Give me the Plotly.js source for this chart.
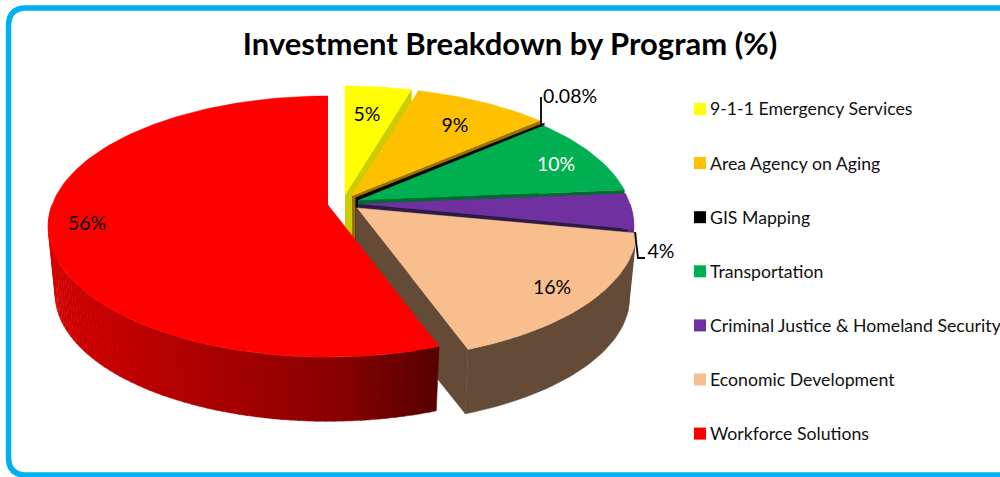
<!DOCTYPE html>
<html><head><meta charset="utf-8">
<script src="https://cdn.plot.ly/plotly-3.0.1.min.js"></script>
<style>html,body{margin:0;padding:0;background:#fff;overflow:hidden}#c{width:1000px;height:477px}</style>
</head><body><div id="c"></div>
<script>
const categories = ["9-1-1 Emergency Services","Area Agency on Aging","GIS Mapping","Transportation","Criminal Justice & Homeland Security","Economic Development","Workforce Solutions"];
const values = [4.5,9.1,0.08,10,4.4,16.4,55.52];
const labels = ["5%","9%","0.08%","10%","4%","16%","56%"];
const topColors = ["#ffff00","#ffc000","#000000","#00b050","#7030a0","#f8be8e","#ff0000"];
const wallColors = ["#cccc00","#997300","#000000","#006a30","#2e1a47","#634b37","#800000"];
const rimColors = ["#cccc00","#997300","#000000","#006a30","#5a2d90","#634b37","#800000"];
const tips = [[345,195],[352,196],[355.5,198],[358,200.5],[359,204],[357,208],[328,205]];
const reach = [1,1,1,0.982,0.982,1,1];
const labelPos = [[367,115],[455,125.5],[570,97],[556,165],[661,252],[552,287.5],[87,224]];
const labelColors = ["#000","#000","#000","#fff","#000","#000","#000"];
const rampX = [49,240,340,437];
const rampRed = [212,162,136,88];

// projection of the tilted disc
const RX=276, RY=127, K=0.165, DEPTH=68, SHRINK=0.975;
function proj(tip,deg,bottom,r){
  const t=deg*Math.PI/180,u=Math.sin(t),v=Math.cos(t),d=1+K*v,s=bottom?SHRINK:1;
  return [tip[0]+(r||1)*s*RX*u/d, tip[1]+(bottom?DEPTH:0)-s*RY*v/d];
}
function arc(tip,a,b,bottom,r){const n=Math.max(2,Math.ceil(Math.abs(b-a)/1.5));const p=[];
  for(let i=0;i<=n;i++)p.push(proj(tip,a+(b-a)*i/n,bottom,r));return p;}
function poly(pts,color){return {type:'scatter',mode:'lines',x:pts.map(p=>p[0]),y:pts.map(p=>p[1]),fill:'toself',fillcolor:color,
  line:{color:color,width:0.5},hoverinfo:'skip',showlegend:false};}
function ramp(x){let i=0;while(i<rampX.length-2&&x>rampX[i+1])i++;
  const f=Math.min(1,Math.max(0,(x-rampX[i])/(rampX[i+1]-rampX[i])));
  return 'rgb('+Math.round(rampRed[i]+(rampRed[i+1]-rampRed[i])*f)+',0,0)';}

const traces=[];
const total=values.reduce((a,b)=>a+b,0);
let acc=0;
values.forEach((val,i)=>{
  const a=acc/total*360,b=(acc+val)/total*360;acc+=val;
  const tip=tips[i],r=reach[i],tb=[tip[0],tip[1]+DEPTH];
  if(i<6){
    // radial wall on the near cut
    const e=proj(tip,b,false,r),eb=proj(tip,b,true,r);
    const wall=i===5?[[tip[0]-1.5,tip[1]-1],tip,e,eb,[tb[0]-1.5,tb[1]]]:[tip,e,eb,tb];
    traces.push(poly(wall,wallColors[i]));
    // outer wall
    const lo=Math.max(a,90),hi=b;
    if(hi>lo){
      const pts=arc(tip,lo,hi,false,r).concat(arc(tip,hi,lo,true,r));
      traces.push(poly(pts,rimColors[i]));
    }
  } else {
    // outer wall shaded from left to right
    const lo=a,hi=270,steps=70;
    for(let k=0;k<steps;k++){
      const s0=hi+(lo-hi)*k/steps,s1=Math.max(lo,hi+(lo-hi)*(k+1.1)/steps);
      const mid=proj(tip,(s0+s1)/2,false,r)[0];
      const pts=arc(tip,s0,s1,false,r).concat(arc(tip,s1,s0,true,r));
      traces.push(poly(pts,ramp(mid)));
    }
  }
  // top surface
  traces.push(poly([tip].concat(arc(tip,a,b,false,r)),topColors[i]));
});

// leader lines
const leaderX=[[541,541],[635,638,645]], leaderY=[[127,97],[232,258,258]];
leaderX.forEach((lx,i)=>traces.push({type:'scatter',mode:'lines',x:lx,y:leaderY[i],line:{color:'#000',width:1.8},hoverinfo:'skip',showlegend:false}));

// slice labels
traces.push({type:'scatter',mode:'text',x:labelPos.map(p=>p[0]),y:labelPos.map(p=>p[1]+1.5),text:labels,
  textposition:'middle center',textfont:{family:'Lato, sans-serif',size:19.5,color:labelColors},hoverinfo:'skip',showlegend:false,cliponaxis:false});

// key
const keyY=categories.map((c,i)=>109+54.1*i);
traces.push({type:'scatter',mode:'markers',x:categories.map(()=>700),y:keyY,
  marker:{symbol:'square',size:12,color:topColors,line:{width:0}},hoverinfo:'skip',showlegend:false});
traces.push({type:'scatter',mode:'text',x:categories.map(()=>710),y:keyY.map(v=>v+2),text:categories,textposition:'middle right',
  textfont:{family:'Lato, sans-serif',size:17.7,color:'#111'},hoverinfo:'skip',showlegend:false,cliponaxis:true});

const layout={width:1000,height:477,margin:{l:0,r:0,t:0,b:0},paper_bgcolor:'#fff',plot_bgcolor:'#fff',showlegend:false,
  title:{text:'<b>Investment Breakdown by Program (%)</b>',x:0.51,xref:'paper',xanchor:'center',y:0.908,yref:'container',yanchor:'middle',
    font:{family:'Lato, sans-serif',size:31,color:'#000'}},
  xaxis:{range:[0,1000],visible:false,fixedrange:true},
  yaxis:{range:[477,0],visible:false,fixedrange:true},
  shapes:[{type:'path',xref:'x',yref:'y',layer:'above',line:{color:'#00b0f0',width:5.5},
    path:'M 1040 8 L 26 8 Q 8.5 8 8.5 26 L 8.5 457 Q 8.5 475 26 475 L 1040 475'}]};
Plotly.newPlot('c',traces,layout,{staticPlot:true,displayModeBar:false});
</script></body></html>
